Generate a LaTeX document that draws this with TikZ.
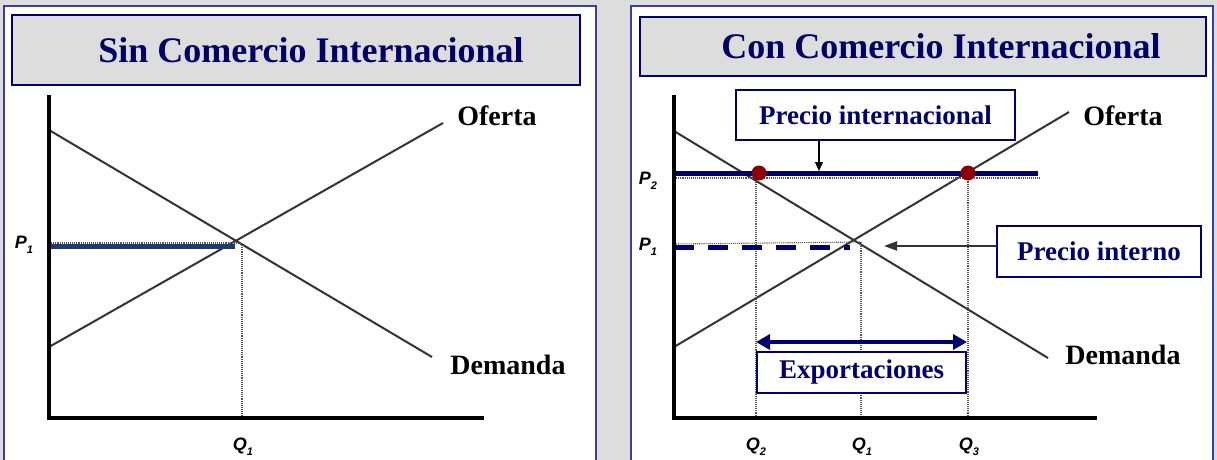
\documentclass[tikz,border=0pt]{standalone}
\usepackage{fontspec}
\setmainfont{Liberation Serif}
\newfontfamily\labfont{Liberation Sans}
\usetikzlibrary{arrows.meta}
\definecolor{bg}{HTML}{DDDDDD}
\definecolor{framecol}{HTML}{3D3D9E}
\definecolor{navy}{HTML}{000070}
\definecolor{titlecol}{HTML}{000066}
\definecolor{pblue}{HTML}{1A3C70}
\definecolor{dotred}{HTML}{8B0000}
\definecolor{curvecol}{HTML}{333333}
\definecolor{guidecol}{HTML}{555555}
\newcommand\pqlab[2]{#1\raisebox{-0.3em}{\fontsize{11}{11}\selectfont #2}}
\tikzset{
  panel/.style={draw=framecol, line width=1.6pt, fill=white},
  titlebox/.style={draw=navy, line width=1.2pt, fill=bg, text=titlecol,
    font=\bfseries\fontsize{36}{40}\selectfont, inner sep=0pt},
  axisline/.style={line width=3.5pt, line join=miter, black},
  curveline/.style={curvecol, line width=2pt},
  guide/.style={densely dotted, guidecol, line width=1.1pt},
  plevel/.style={line width=5pt},
  lbl/.style={font=\bfseries\fontsize{28}{30}\selectfont, text=black, inner sep=0pt},
  infobox/.style={draw=navy, line width=1.2pt, fill=white, text=navy,
    font=\bfseries\fontsize{27}{30}\selectfont, inner sep=0pt},
  qlab/.style={font=\labfont\bfseries\itshape\fontsize{18}{19}\selectfont, inner sep=0pt},
  eqdot/.style={circle, fill=dotred, minimum size=15pt, inner sep=0pt}
}
\begin{document}
\begin{tikzpicture}[x=1pt,y=-1pt]
\clip (0,0) rectangle (1217,460);
\fill[bg] (0,0) rectangle (1217,460);

% ---------- left panel ----------
\draw[panel] (4,6) rectangle (596,480);
\node[titlebox, minimum width=568pt, minimum height=70pt] (t1) at (296,50) {\hspace*{30pt}Sin Comercio Internacional};

\coordinate (o1) at (49,418);
\coordinate (y1) at (49,95);
\coordinate (x1) at (484,418);
\coordinate (d1a) at (49,130);
\coordinate (d1b) at (432,357);
\coordinate (s1a) at (49,347);
\coordinate (s1b) at (443,123);
\coordinate (e1) at (242,243);
\coordinate (q1base) at (242,418);

\draw[curveline] (d1a) -- (d1b);
\draw[curveline] (s1a) -- (s1b);
\draw[guide] (e1) -- (q1base);
\draw[guide] (49,243) -- (e1);
\draw[plevel, pblue] (49,246) -- (235,246);
\draw[axisline] (y1) -- (o1) -- (x1);

\node[lbl] (of1) at (497,116) {Oferta};
\node[lbl] (de1) at (508,365) {Demanda};
\node[qlab] (p1l) at (24,245) {\pqlab{P}{1}};
\node[qlab] (q1l) at (243,447) {\pqlab{Q}{1}};

% ---------- right panel ----------
\draw[panel] (631,6) rectangle (1213,480);
\node[titlebox, minimum width=566pt, minimum height=59pt] (t2) at (923,46.5) {\hspace*{36pt}Con Comercio Internacional};

\coordinate (o2) at (674,418);
\coordinate (y2) at (674,95);
\coordinate (x2) at (1097,418);
\coordinate (d2a) at (674,131);
\coordinate (d2b) at (1048,358);
\coordinate (s2a) at (674,347);
\coordinate (s2b) at (1069,112);
\coordinate (e2) at (861,242);

\draw[curveline] (d2a) -- (d2b);
\draw[curveline] (s2a) -- (s2b);

\draw[guide] (674,178) -- (1040,178);
\draw[guide] (674,244) -- (e2);
\draw[guide] (756,173) -- (756,418);
\draw[guide] (e2) -- (861,418);
\draw[guide] (968,173) -- (968,418);

\draw[plevel, navy] (674,173) -- (1038,173);
\draw[plevel, navy, dash pattern=on 20pt off 14pt] (674,247) -- (850,247);

\node[eqdot] (dotA) at (759,173) {};
\node[eqdot] (dotB) at (968,173) {};

\draw[axisline] (y2) -- (o2) -- (x2);

% boxes and arrows
\node[infobox, minimum width=279pt, minimum height=50pt] (pintl) at (875.5,115) {Precio internacional};
\coordinate (pintlTip) at (819,171);
\draw[black, line width=1.3pt, -{Triangle[length=9pt,width=8pt]}] (pintlTip |- pintl.south) -- (pintlTip);

\node[infobox, minimum width=204pt, minimum height=51pt] (pinte) at (1099,251.5) {Precio interno};
\coordinate (pinteTip) at (884,246);
\draw[curvecol, line width=2pt, -{Triangle[length=13pt,width=9pt]}] (pinte.west |- pinteTip) -- (pinteTip);

\coordinate (exL) at (756,342);
\coordinate (exR) at (967,342);
\draw[navy, line width=4pt, {Triangle[length=14pt,width=15pt]}-{Triangle[length=14pt,width=15pt]}] (exL) -- (exR);
\node[infobox, minimum width=209pt, minimum height=41pt] (expo) at (861.5,372.5) {Exportaciones};

\node[lbl] (of2) at (1123,116) {Oferta};
\node[lbl] (de2) at (1123,355) {Demanda};
\node[qlab] (p2l) at (648,181) {\pqlab{P}{2}};
\node[qlab] (p1r) at (648,247) {\pqlab{P}{1}};
\node[qlab] (q2l) at (756,447) {\pqlab{Q}{2}};
\node[qlab] (q1r) at (862,447) {\pqlab{Q}{1}};
\node[qlab] (q3l) at (969,447) {\pqlab{Q}{3}};
\end{tikzpicture}
\end{document}
